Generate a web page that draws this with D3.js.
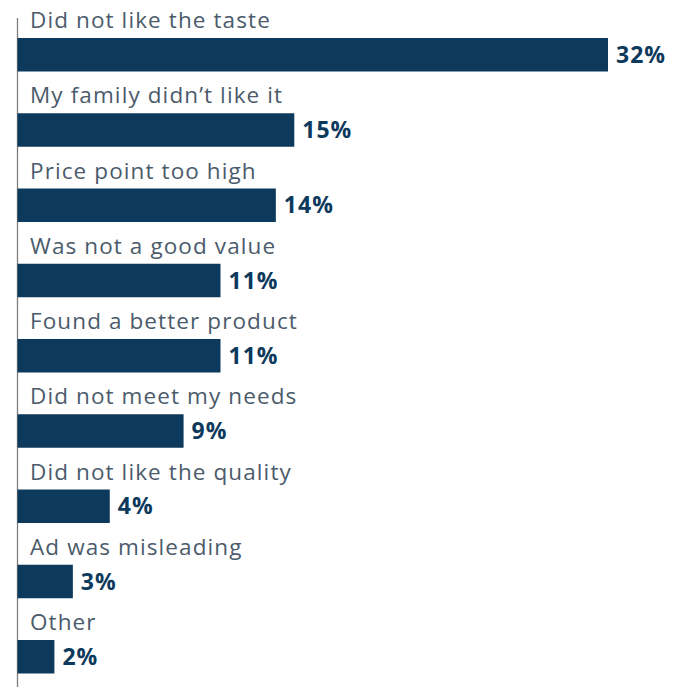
<!DOCTYPE html>
<html><head><meta charset="utf-8">
<script src="https://cdn.jsdelivr.net/npm/d3@7"></script>
<style>html,body{margin:0;padding:0;background:#fff;}</style>
</head><body>
<svg id="chart" width="678" height="687"></svg>
<script>
const categories = ["Did not like the taste","My family didn\u2019t like it","Price point too high","Was not a good value","Found a better product","Did not meet my needs","Did not like the quality","Ad was misleading","Other"];
const values = [32,15,14,11,11,9,5,3,2];
const valueLabels = ["32%","15%","14%","11%","11%","9%","4%","3%","2%"];

const svg = d3.select("#chart");
const x0 = 17.5;
const x = d3.scaleLinear().domain([0,32]).range([x0, 608]);
const barH = 33.5;
const barOff = 38;
const step = 75.25;
const y = d3.scaleLinear().domain([0,1]).range([barOff, barOff+step]);

svg.append("line").attr("x1",x0).attr("x2",x0).attr("y1",18).attr("y2",687)
  .attr("stroke","#7d7d7d").attr("stroke-width",1.3);

const g = svg.selectAll("g.row").data(categories).join("g").attr("class","row");
g.append("rect")
  .attr("x", x0)
  .attr("y", (d,i)=> y(i))
  .attr("width", (d,i)=> x(values[i]) - x0)
  .attr("height", barH)
  .attr("fill","#0d3a5c");
g.append("text")
  .attr("x", 30)
  .attr("y", (d,i)=> y(i) - 10)
  .attr("font-family","'Open Sans', sans-serif")
  .attr("font-size", 22.5)
  .attr("letter-spacing", 1.1)
  .attr("fill","#4b5b6b")
  .text(d=>d);
g.append("text")
  .attr("x", (d,i)=> x(values[i]) + 8)
  .attr("y", (d,i)=> y(i) + barH/2 + 8)
  .attr("font-family","'Open Sans', sans-serif")
  .attr("font-weight","bold")
  .attr("font-size", 23)
  .attr("letter-spacing", 1)
  .attr("fill","#0d3a5c")
  .text((d,i)=>valueLabels[i]);
</script>
</body></html>
